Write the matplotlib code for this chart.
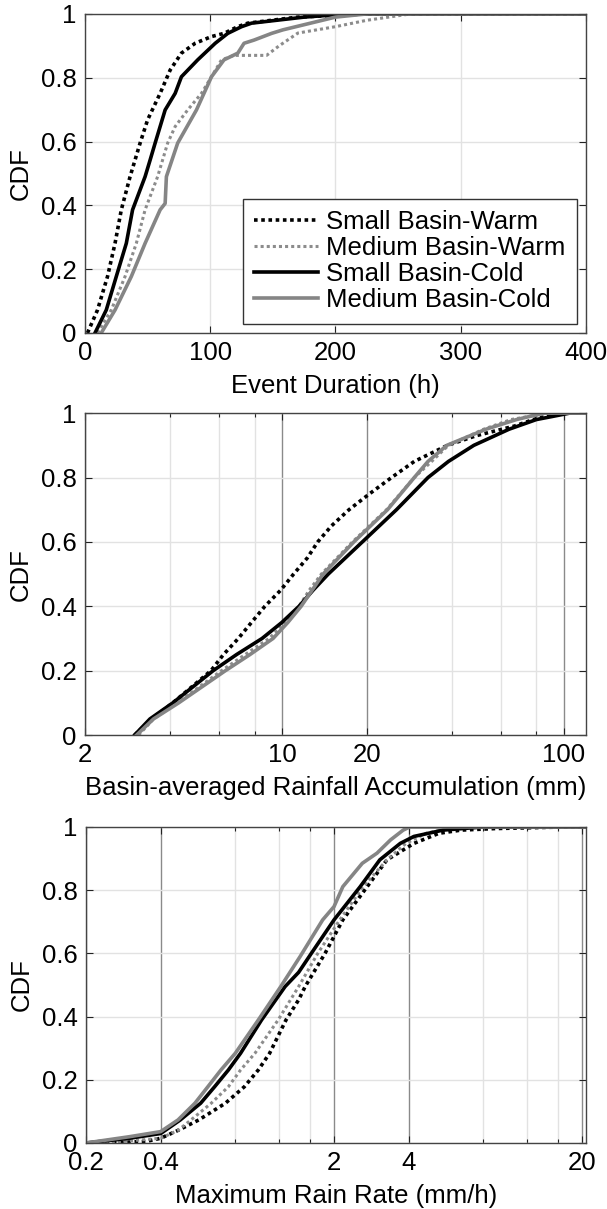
import numpy as np
import matplotlib.pyplot as plt
from matplotlib.ticker import FixedLocator, NullFormatter

plt.rcParams['font.family'] = ['Liberation Sans', 'DejaVu Sans']
plt.rcParams['font.size'] = 18.5

labels = ['Small Basin-Warm', 'Medium Basin-Warm', 'Small Basin-Cold', 'Medium Basin-Cold']

# ---- panel 1: event duration (h), CDF level -> value
dur_sw_F = [0, 0.072, 0.177, 0.281, 0.386, 0.49, 0.595, 0.668, 0.751, 0.824, 0.877, 0.908, 0.929, 0.939, 0.96, 0.971, 0.99, 1.0, 1.0]
dur_sw_x = [2, 10, 18, 24, 29, 36, 44, 50, 60, 68, 77, 88, 101, 111, 122, 130, 170, 225, 400]
dur_mw_F = [0, 0.072, 0.177, 0.281, 0.386, 0.49, 0.595, 0.647, 0.699, 0.751, 0.803, 0.856, 0.87, 0.87, 0.90, 0.94, 0.96, 0.98, 1.0, 1.0]
dur_mw_x = [10, 21, 32, 41, 48, 58, 66, 72, 82, 93, 101, 109, 119, 145, 155, 170, 200, 225, 260, 400]
dur_sc_F = [0, 0.072, 0.177, 0.281, 0.386, 0.49, 0.542, 0.595, 0.699, 0.751, 0.803, 0.856, 0.908, 0.939, 0.96, 0.971, 0.99, 1.0, 1.0]
dur_sc_x = [8, 17, 25, 33, 38, 48, 52, 56, 64, 72, 77, 90, 104, 114, 125, 133, 175, 210, 400]
dur_mc_F = [0, 0.072, 0.177, 0.281, 0.386, 0.406, 0.49, 0.595, 0.699, 0.803, 0.856, 0.877, 0.908, 0.918, 0.939, 0.95, 0.97, 0.99, 1.0, 1.0]
dur_mc_x = [13, 24, 37, 48, 60, 64, 65, 74, 89, 101, 111, 122, 127, 135, 149, 158, 179, 200, 225, 400]

# ---- panel 2: basin-averaged rainfall accumulation (mm)
acc_sw_F = [0, 0.05, 0.1, 0.2, 0.25, 0.3, 0.35, 0.4, 0.45, 0.5, 0.55, 0.6, 0.65, 0.7, 0.75, 0.8, 0.85, 0.9, 0.93, 0.96, 0.98, 1.0, 1.0]
acc_sw_x = [3.0, 3.45, 4.1, 5.6, 6.2, 7.0, 7.8, 8.7, 9.9, 11.0, 12.3, 13.4, 15.0, 17.3, 20.5, 24.5, 29.5, 38.7, 49, 67, 78, 95, 120]
acc_mw_F = [0, 0.05, 0.1, 0.2, 0.25, 0.3, 0.35, 0.4, 0.45, 0.5, 0.6, 0.7, 0.8, 0.85, 0.9, 0.95, 0.98, 1.0, 1.0]
acc_mw_x = [3.1, 3.5, 4.25, 6.1, 7.4, 9.0, 10.3, 11.5, 12.5, 13.8, 17.8, 23.5, 29.5, 34, 39, 52, 65, 88, 120]
acc_sc_F = [0, 0.05, 0.1, 0.2, 0.25, 0.3, 0.35, 0.4, 0.45, 0.5, 0.6, 0.7, 0.8, 0.85, 0.9, 0.95, 0.98, 1.0, 1.0]
acc_sc_x = [3.0, 3.4, 4.1, 5.7, 6.9, 8.5, 10.0, 11.5, 12.9, 14.6, 19.3, 25.5, 33, 39, 48, 64, 80, 105, 120]
acc_mc_F = [0, 0.05, 0.1, 0.2, 0.25, 0.3, 0.35, 0.4, 0.45, 0.5, 0.6, 0.7, 0.8, 0.85, 0.9, 0.95, 0.98, 1.0, 1.0]
acc_mc_x = [3.05, 3.5, 4.3, 6.3, 7.7, 9.3, 10.5, 11.7, 12.8, 14.0, 18.0, 23.7, 29.5, 33, 38.5, 53, 68, 85, 120]

# ---- panel 3: maximum rain rate (mm/h)
rr_sw_F = [0, 0.005, 0.015, 0.04, 0.073, 0.126, 0.178, 0.231, 0.284, 0.389, 0.453, 0.495, 0.6, 0.706, 0.811, 0.896, 0.948, 0.98, 0.99, 0.995, 1.0, 1.0]
rr_sw_x = [0.24, 0.35, 0.40, 0.47, 0.57, 0.73, 0.87, 0.99, 1.10, 1.28, 1.44, 1.53, 1.84, 2.17, 2.72, 3.27, 4.2, 5.3, 6.5, 9, 17, 21]
rr_mw_F = [0, 0.015, 0.04, 0.073, 0.126, 0.178, 0.231, 0.284, 0.389, 0.495, 0.6, 0.706, 0.811, 0.896, 0.948, 0.98, 0.995, 1.0, 1.0]
rr_mw_x = [0.24, 0.40, 0.47, 0.53, 0.64, 0.75, 0.84, 0.96, 1.19, 1.44, 1.72, 2.11, 2.62, 3.27, 3.9, 4.7, 5.8, 7, 21]
rr_sc_F = [0, 0.015, 0.03, 0.073, 0.126, 0.178, 0.231, 0.284, 0.389, 0.495, 0.54, 0.6, 0.706, 0.811, 0.896, 0.948, 0.97, 0.99, 1.0, 1.0]
rr_sc_x = [0.2, 0.30, 0.40, 0.48, 0.58, 0.66, 0.75, 0.84, 1.02, 1.27, 1.44, 1.62, 2.0, 2.55, 3.06, 3.7, 4.2, 5.5, 8, 21]
rr_mc_F = [0, 0.02, 0.036, 0.073, 0.126, 0.178, 0.231, 0.284, 0.389, 0.495, 0.59, 0.706, 0.748, 0.811, 0.885, 0.917, 0.959, 0.99, 1.0, 1.0]
rr_mc_x = [0.2, 0.30, 0.40, 0.47, 0.55, 0.62, 0.70, 0.80, 0.99, 1.22, 1.46, 1.80, 2.0, 2.17, 2.6, 2.98, 3.38, 3.8, 4.04, 21]

yticks = [0, 0.2, 0.4, 0.6, 0.8, 1]
ytick_labels = ['0', '0.2', '0.4', '0.6', '0.8', '1']

styles = [
    dict(color='black', lw=2.6, ls=(0, (1, 1))),
    dict(color='#8c8c8c', lw=2.2, ls=(0, (1, 1))),
    dict(color='black', lw=2.6, ls='-'),
    dict(color='#858585', lw=2.6, ls='-'),
]


def style_axes(ax):
    ax.set_ylim(0, 1)
    ax.set_yticks(yticks)
    ax.set_yticklabels(ytick_labels)
    ax.set_ylabel('CDF', labelpad=6)
    ax.tick_params(which='both', direction='in', top=True, right=True,
                   length=5, width=0.8, pad=6, colors='#222222', labelcolor='black')
    ax.tick_params(which='minor', length=3)
    for s in ax.spines.values():
        s.set_color('#444444')
        s.set_linewidth(1.0)
    ax.grid(axis='y', color='#e2e2e2', lw=1.0)


fig = plt.figure(figsize=(6.07, 12.09), dpi=100)
ax1 = fig.add_axes([0.140, 0.7246, 0.8254, 0.2639])
ax2 = fig.add_axes([0.140, 0.3920, 0.8254, 0.2663])
ax3 = fig.add_axes([0.1417, 0.0546, 0.8237, 0.2614])

# panel 1
for (x, F), st, lab in zip([(dur_sw_x, dur_sw_F), (dur_mw_x, dur_mw_F),
                            (dur_sc_x, dur_sc_F), (dur_mc_x, dur_mc_F)], styles, labels):
    ax1.plot(x, F, label=lab, **st)
ax1.set_xlim(0, 400)
ax1.set_xticks([0, 100, 200, 300, 400])
style_axes(ax1)
ax1.grid(axis='x', color='#e2e2e2', lw=1.0)
ax1.set_xlabel('Event Duration (h)', labelpad=6)
leg = ax1.legend(loc='lower right', bbox_to_anchor=(0.982, 0.028), borderaxespad=0,
                 fontsize=18.5, handlelength=2.5, handletextpad=0.3, labelspacing=0.08,
                 borderpad=0.45, fancybox=False, framealpha=1)
leg.get_frame().set_edgecolor('#333333')
leg.get_frame().set_linewidth(1.0)

# panel 2
for (x, F), st in zip([(acc_sw_x, acc_sw_F), (acc_mw_x, acc_mw_F),
                       (acc_sc_x, acc_sc_F), (acc_mc_x, acc_mc_F)], styles):
    ax2.plot(x, F, **st)
ax2.set_xscale('log')
ax2.set_xlim(2, 120)
ax2.xaxis.set_major_locator(FixedLocator([2, 10, 20, 100]))
ax2.xaxis.set_minor_locator(FixedLocator([4, 6, 8, 40, 60, 80]))
ax2.set_xticklabels(['2', '10', '20', '100'])
ax2.xaxis.set_minor_formatter(NullFormatter())
style_axes(ax2)
ax2.grid(axis='x', which='major', color='#8a8a8a', lw=1.0)
ax2.grid(axis='x', which='minor', color='#e2e2e2', lw=1.0)
ax2.set_xlabel('Basin-averaged Rainfall Accumulation (mm)', labelpad=6)

# panel 3
for (x, F), st in zip([(rr_sw_x, rr_sw_F), (rr_mw_x, rr_mw_F),
                       (rr_sc_x, rr_sc_F), (rr_mc_x, rr_mc_F)], styles):
    ax3.plot(x, F, **st)
ax3.set_xscale('log')
ax3.set_xlim(0.2, 20.75)
ax3.xaxis.set_major_locator(FixedLocator([0.2, 0.4, 2, 4, 20]))
ax3.xaxis.set_minor_locator(FixedLocator([0.8, 1.2, 1.6, 8, 12, 16]))
ax3.set_xticklabels(['0.2', '0.4', '2', '4', '20'])
ax3.xaxis.set_minor_formatter(NullFormatter())
style_axes(ax3)
ax3.grid(axis='x', which='major', color='#8a8a8a', lw=1.0)
ax3.grid(axis='x', which='minor', color='#e2e2e2', lw=1.0)
ax3.set_xlabel('Maximum Rain Rate (mm/h)', labelpad=6)

fig.savefig('out.png', dpi=100)
